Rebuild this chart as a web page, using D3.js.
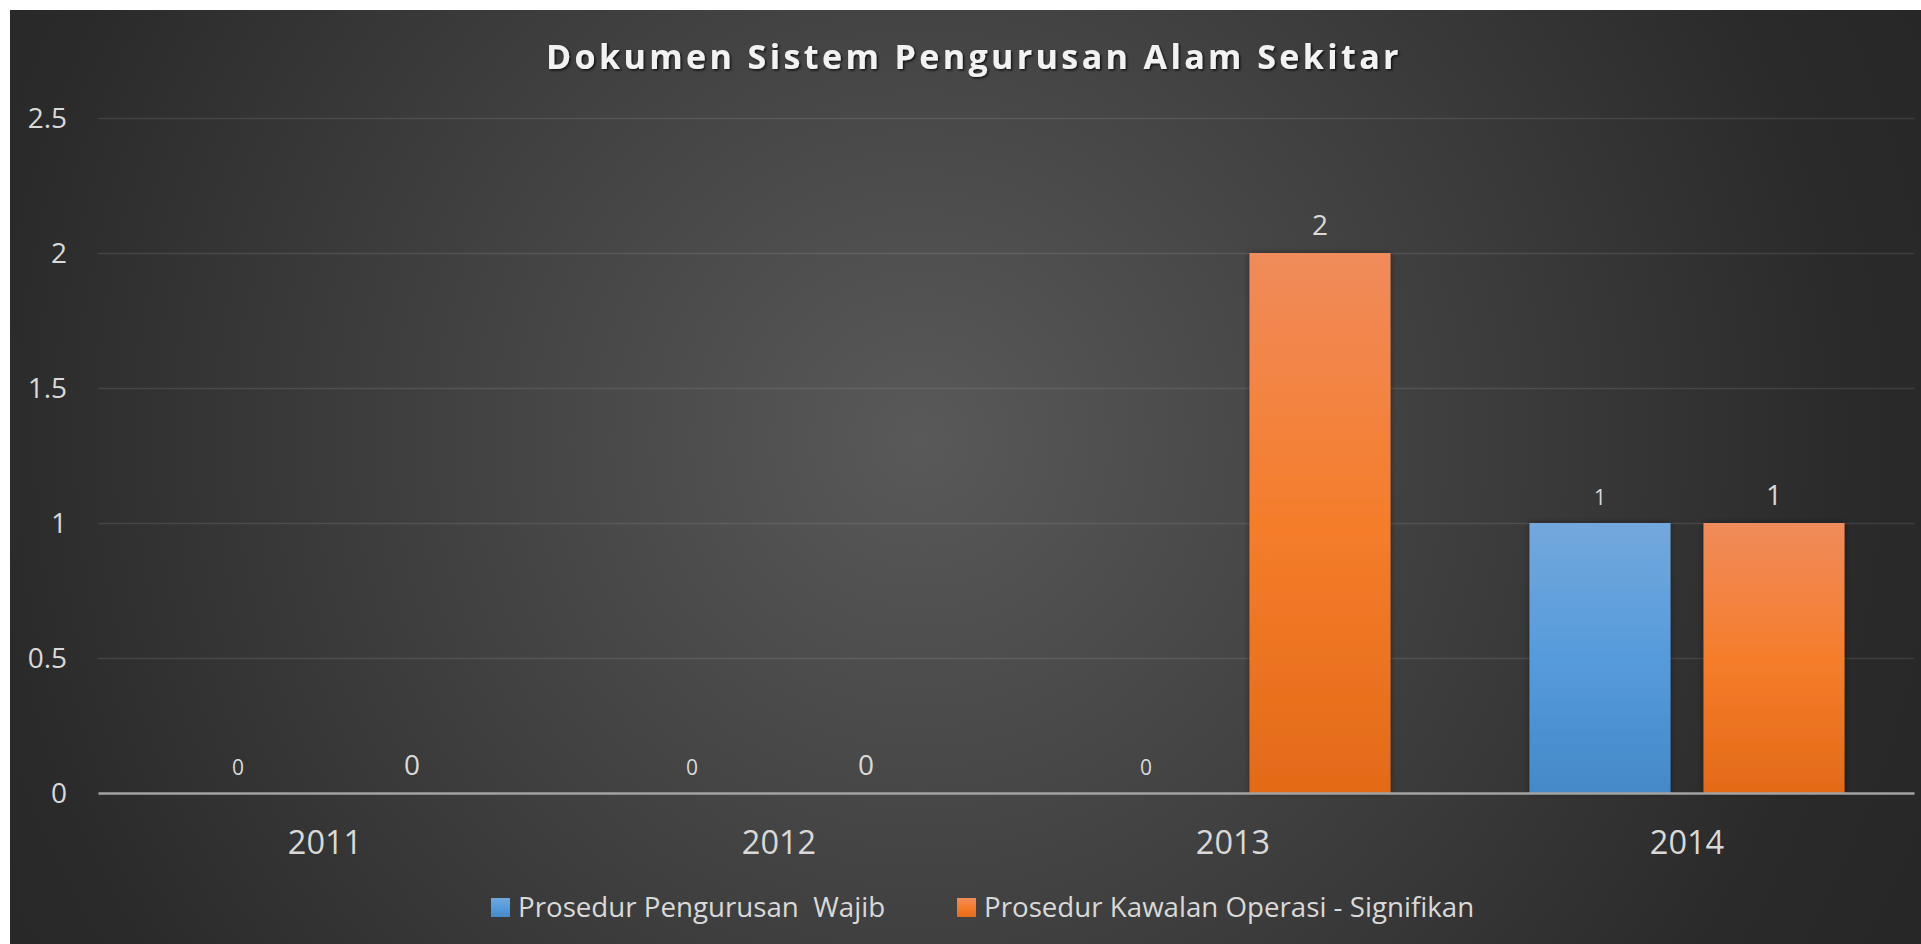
<!DOCTYPE html>
<html><head><meta charset="utf-8">
<script src="https://cdn.jsdelivr.net/npm/d3@7"></script>
<style>html,body{margin:0;padding:0;background:#fff;overflow:hidden}</style>
</head><body><svg id="c" width="1921" height="944"></svg>
<script>
const chartTitle = "Dokumen Sistem Pengurusan Alam Sekitar";
const categories = ["2011", "2012", "2013", "2014"];
const seriesNames = ["Prosedur Pengurusan  Wajib", "Prosedur Kawalan Operasi - Signifikan"];
const wajib = [0, 0, 0, 1];
const signifikan = [0, 0, 2, 1];
const yTicks = [0, 0.5, 1, 1.5, 2, 2.5];

const series = [
  {name: seriesNames[0], values: wajib, grad: "gBlue", labelSize: 21},
  {name: seriesNames[1], values: signifikan, grad: "gOrange", labelSize: 28}
];

const svg = d3.select("#c");
const defs = svg.append("defs");

const bg = defs.append("radialGradient").attr("id", "bgGrad")
  .attr("gradientUnits", "userSpaceOnUse").attr("cx", 920).attr("cy", 440).attr("r", 1100);
bg.append("stop").attr("offset", 0).attr("stop-color", "#595959");
bg.append("stop").attr("offset", 0.85).attr("stop-color", "#2a2a2a");
bg.append("stop").attr("offset", 1).attr("stop-color", "#272727");

function vgrad(id, c0, c1, c2) {
  const g = defs.append("linearGradient").attr("id", id).attr("x1", 0).attr("y1", 0).attr("x2", 0).attr("y2", 1);
  g.append("stop").attr("offset", 0).attr("stop-color", c0);
  g.append("stop").attr("offset", 0.5).attr("stop-color", c1);
  g.append("stop").attr("offset", 1).attr("stop-color", c2);
}
vgrad("gBlue", "#73a8dd", "#569bdb", "#4489c8");
vgrad("gOrange", "#f08b5b", "#f57d2b", "#e36a18");

const fs = defs.append("filter").attr("id", "barShadow").attr("x", "-20%").attr("y", "-20%").attr("width", "140%").attr("height", "140%");
fs.append("feDropShadow").attr("dx", 0).attr("dy", 0).attr("stdDeviation", 3).attr("flood-color", "#000").attr("flood-opacity", 0.45);
const ft = defs.append("filter").attr("id", "titleShadow").attr("x", "-5%").attr("y", "-30%").attr("width", "110%").attr("height", "160%");
ft.append("feDropShadow").attr("dx", 1.5).attr("dy", 1.5).attr("stdDeviation", 1.2).attr("flood-color", "#000").attr("flood-opacity", 0.75);

svg.append("rect").attr("x", 10).attr("y", 10).attr("width", 1911).attr("height", 934).attr("fill", "url(#bgGrad)");

const plotLeft = 98, plotRight = 1914, plotTop = 118, plotBottom = 793;
const x0 = d3.scaleBand().domain(categories).range([plotLeft, plotRight]).paddingInner(0).paddingOuter(0);
const x1 = d3.scaleBand().domain(d3.range(series.length)).range([0, x0.bandwidth()]).paddingInner(33 / 174).paddingOuter(0.3994);
const y = d3.scaleLinear().domain([0, 2.5]).range([plotBottom, plotTop]);

// gridlines
const grid = svg.append("g").attr("transform", `translate(${plotLeft},0)`)
  .call(d3.axisLeft(y).tickValues(yTicks.filter(v => v > 0)).tickSize(-(plotRight - plotLeft)).tickFormat(""));
grid.select(".domain").remove();
grid.selectAll("line").attr("stroke", "rgba(255,255,255,0.1)").attr("stroke-width", 1.5);

// y tick labels
const yAx = svg.append("g").attr("transform", "translate(67,0)")
  .call(d3.axisLeft(y).tickValues(yTicks).tickSize(0).tickPadding(0).tickFormat(d => String(d)));
yAx.select(".domain").remove();
yAx.selectAll("text").attr("fill", "#d9d9d9").attr("font-family", "'Open Sans', sans-serif").attr("font-size", 28).attr("dy", "0.35em");

// bars
const groups = svg.append("g").selectAll("g").data(categories).join("g")
  .attr("transform", d => `translate(${x0(d)},0)`);
series.forEach((s, si) => {
  groups.append("rect")
    .attr("x", x1(si)).attr("width", x1.bandwidth())
    .attr("y", (d, i) => y(s.values[i]))
    .attr("height", (d, i) => y(0) - y(s.values[i]))
    .attr("fill", `url(#${s.grad})`)
    .attr("filter", (d, i) => s.values[i] > 0 ? "url(#barShadow)" : null);
});

// x axis line
const xAx = svg.append("g").attr("transform", `translate(0,${plotBottom})`)
  .call(d3.axisBottom(x0).tickSize(0).tickPadding(0));
xAx.select(".domain").attr("stroke", "#a3a3a3").attr("stroke-width", 2.5);
xAx.selectAll("text").attr("fill", "#d9d9d9").attr("font-family", "'Open Sans', sans-serif").attr("font-size", 32.5)
  .attr("y", 61).attr("dy", 0);

// value labels
series.forEach((s, si) => {
  groups.append("text")
    .attr("x", x1(si) + x1.bandwidth() / 2)
    .attr("y", (d, i) => y(s.values[i]) - 18)
    .attr("text-anchor", "middle")
    .attr("fill", "#d9d9d9")
    .attr("font-family", "'Open Sans', sans-serif")
    .attr("font-size", s.labelSize)
    .text((d, i) => s.values[i]);
});

// title
svg.append("text").attr("x", 974).attr("y", 69).attr("text-anchor", "middle")
  .attr("fill", "#f2f2f2").attr("font-family", "'Open Sans', sans-serif").attr("font-weight", "bold")
  .attr("font-size", 34).attr("letter-spacing", 3.4).attr("filter", "url(#titleShadow)")
  .text(chartTitle);

// legend
const legendX = [491, 957];
const leg = svg.append("g").selectAll("g").data(series).join("g")
  .attr("transform", (d, i) => `translate(${legendX[i]},898)`);
leg.append("rect").attr("width", 19).attr("height", 19).attr("fill", d => `url(#${d.grad})`);
leg.append("text").attr("x", 27).attr("y", 19)
  .attr("fill", "#d9d9d9").attr("font-family", "'Open Sans', sans-serif").attr("font-size", 27.7)
  .style("white-space", "pre").text(d => d.name);
</script>
</body></html>
